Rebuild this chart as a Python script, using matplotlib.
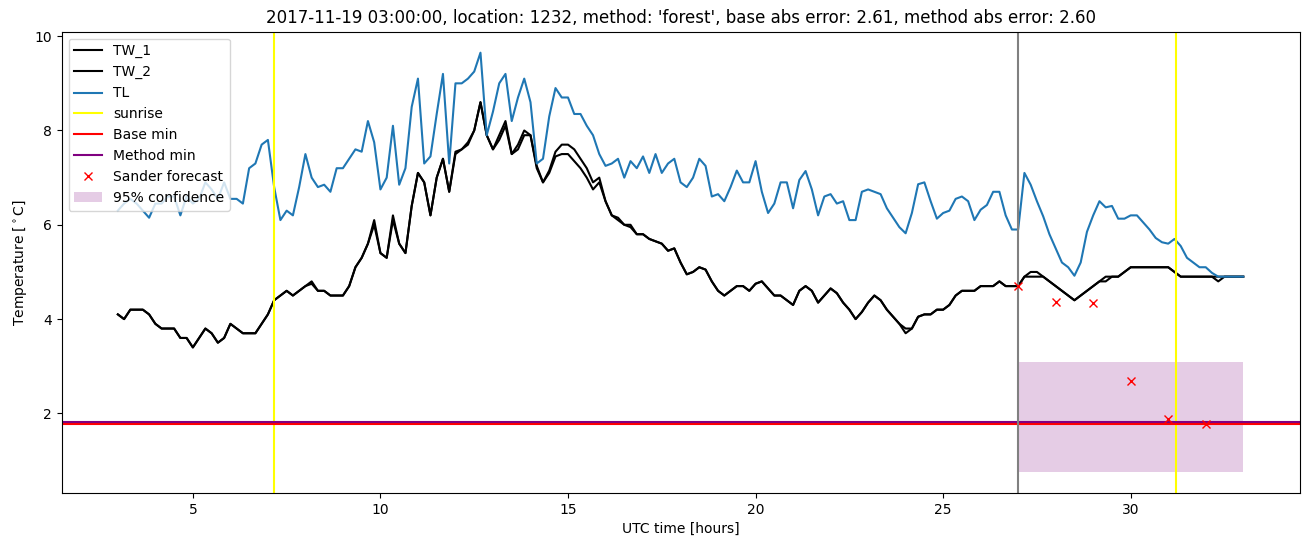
import numpy as np
import matplotlib
matplotlib.use("Agg")
import matplotlib.pyplot as plt

# 10-minute samples from 03:00 to 33:00 (hours since midnight UTC)
tw_1 = [4.1, 4.0, 4.2, 4.2, 4.2, 4.1,
        3.9, 3.8, 3.8, 3.8, 3.6, 3.6,
        3.4, 3.6, 3.8, 3.7, 3.5, 3.6,
        3.9, 3.8, 3.7, 3.7, 3.7, 3.9,
        4.1, 4.4, 4.5, 4.6, 4.5, 4.6,
        4.7, 4.8, 4.6, 4.6, 4.5, 4.5,
        4.5, 4.7, 5.1, 5.3, 5.6, 6.1,
        5.4, 5.3, 6.2, 5.6, 5.4, 6.4,
        7.1, 6.9, 6.2, 7.0, 7.4, 6.7,
        7.55, 7.6, 7.75, 8.0, 8.6, 7.9,
        7.6, 7.9, 8.2, 7.5, 7.7, 8.0,
        7.9, 7.25, 6.9, 7.15, 7.55, 7.7,
        7.7, 7.6, 7.4, 7.2, 6.9, 7.0,
        6.5, 6.2, 6.15, 6.0, 6.0, 5.8,
        5.8, 5.7, 5.65, 5.6, 5.45, 5.5,
        5.2, 4.95, 5.0, 5.1, 5.05, 4.8,
        4.6, 4.5, 4.6, 4.7, 4.7, 4.6,
        4.75, 4.8, 4.65, 4.5, 4.5, 4.4,
        4.3, 4.6, 4.7, 4.6, 4.35, 4.5,
        4.65, 4.55, 4.35, 4.2, 4.0, 4.15,
        4.35, 4.5, 4.4, 4.2, 4.05, 3.9,
        3.8, 3.8, 4.05, 4.1, 4.1, 4.2,
        4.2, 4.3, 4.5, 4.6, 4.6, 4.6,
        4.7, 4.7, 4.7, 4.8, 4.7, 4.7,
        4.7, 4.9, 5.0, 5.0, 4.9, 4.8,
        4.7, 4.6, 4.5, 4.4, 4.5, 4.6,
        4.7, 4.8, 4.9, 4.9, 4.9, 5.0,
        5.1, 5.1, 5.1, 5.1, 5.1, 5.1,
        5.1, 5.0, 4.9, 4.9, 4.9, 4.9,
        4.9, 4.9, 4.8, 4.9, 4.9, 4.9,
        4.9]

tw_2 = [4.1, 4.0, 4.2, 4.2, 4.2, 4.1,
        3.9, 3.8, 3.8, 3.8, 3.6, 3.6,
        3.4, 3.6, 3.8, 3.7, 3.5, 3.6,
        3.9, 3.8, 3.7, 3.7, 3.7, 3.9,
        4.1, 4.4, 4.5, 4.6, 4.5, 4.6,
        4.7, 4.75, 4.6, 4.6, 4.5, 4.5,
        4.5, 4.7, 5.1, 5.3, 5.6, 6.0,
        5.4, 5.3, 6.1, 5.6, 5.4, 6.4,
        7.1, 6.9, 6.2, 7.0, 7.4, 6.7,
        7.5, 7.6, 7.7, 8.0, 8.6, 7.9,
        7.6, 7.8, 8.1, 7.5, 7.6, 7.9,
        7.9, 7.2, 6.9, 7.1, 7.45, 7.5,
        7.5, 7.35, 7.2, 7.0, 6.75, 6.9,
        6.5, 6.2, 6.1, 6.0, 5.95, 5.8,
        5.8, 5.7, 5.65, 5.6, 5.45, 5.5,
        5.2, 4.95, 5.0, 5.1, 5.05, 4.8,
        4.6, 4.5, 4.6, 4.7, 4.7, 4.6,
        4.75, 4.8, 4.65, 4.5, 4.5, 4.4,
        4.3, 4.6, 4.7, 4.6, 4.35, 4.5,
        4.65, 4.55, 4.35, 4.2, 4.0, 4.15,
        4.35, 4.5, 4.4, 4.2, 4.05, 3.9,
        3.7, 3.8, 4.05, 4.1, 4.1, 4.2,
        4.2, 4.3, 4.5, 4.6, 4.6, 4.6,
        4.7, 4.7, 4.7, 4.8, 4.7, 4.7,
        4.7, 4.9, 4.9, 4.9, 4.9, 4.8,
        4.7, 4.6, 4.5, 4.4, 4.5, 4.6,
        4.7, 4.8, 4.8, 4.9, 4.9, 5.0,
        5.1, 5.1, 5.1, 5.1, 5.1, 5.1,
        5.1, 5.0, 4.9, 4.9, 4.9, 4.9,
        4.9, 4.9, 4.9, 4.9, 4.9, 4.9,
        4.9]

tl = [6.3, 6.45, 6.55, 6.45, 6.3, 6.15,
      6.45, 6.45, 6.6, 6.6, 6.2, 6.6,
      6.45, 6.55, 6.9, 6.75, 6.55, 6.9,
      6.55, 6.55, 6.45, 7.2, 7.3, 7.7,
      7.8, 6.8, 6.1, 6.3, 6.2, 6.8,
      7.5, 7.0, 6.8, 6.85, 6.7, 7.2,
      7.2, 7.4, 7.6, 7.55, 8.2, 7.75,
      6.75, 7.0, 8.1, 6.85, 7.2, 8.5,
      9.1, 7.3, 7.45, 8.35, 9.2, 7.3,
      9.0, 9.0, 9.1, 9.25, 9.65, 7.9,
      8.4, 9.0, 9.2, 8.2, 8.7, 9.1,
      8.6, 7.3, 7.4, 8.3, 8.9, 8.7,
      8.7, 8.35, 8.35, 8.1, 7.9, 7.5,
      7.25, 7.3, 7.4, 7.0, 7.35, 7.2,
      7.45, 7.1, 7.5, 7.1, 7.3, 7.4,
      6.9, 6.8, 7.0, 7.4, 7.25, 6.6,
      6.65, 6.5, 6.8, 7.15, 6.9, 6.9,
      7.35, 6.7, 6.25, 6.45, 6.9, 6.9,
      6.35, 6.95, 7.14, 6.75, 6.2, 6.6,
      6.65, 6.45, 6.5, 6.1, 6.1, 6.7,
      6.75, 6.7, 6.65, 6.35, 6.15, 5.95,
      5.82, 6.25, 6.86, 6.9, 6.5, 6.13,
      6.25, 6.3, 6.55, 6.6, 6.5, 6.1,
      6.32, 6.42, 6.7, 6.7, 6.2, 5.9,
      5.9, 7.1, 6.85, 6.5, 6.18, 5.8,
      5.5, 5.2, 5.1, 4.92, 5.2, 5.85,
      6.2, 6.5, 6.37, 6.4, 6.13, 6.13,
      6.2, 6.2, 6.05, 5.9, 5.72, 5.63,
      5.6, 5.7, 5.55, 5.3, 5.2, 5.1,
      5.1, 4.98, 4.9, 4.9, 4.9, 4.9,
      4.9]

sunrise = [7.15, 31.2]
forecast_start = 27
base_min = 1.785
method_min = 1.81

sander_hours = [27, 28, 29, 30, 31, 32]
sander_temp = [4.7, 4.37, 4.35, 2.68, 1.88, 1.78]

conf_hours = [27, 33]
conf_low = [0.76, 0.76]
conf_high = [3.1, 3.1]

hours = 3 + np.arange(len(tl)) / 6.0

fig = plt.figure(figsize=(13.1, 5.47), dpi=100)
ax = fig.add_axes([0.047, 0.099, 0.945, 0.843])

ax.plot(hours, tw_1, color="black", label="TW_1")
ax.plot(hours, tw_2, color="black", label="TW_2")
ax.plot(hours, tl, color="tab:blue", label="TL")
ax.axvline(sunrise[0], color="yellow", label="sunrise")
ax.axvline(sunrise[1], color="yellow")
ax.axhline(base_min, color="red", label="Base min")
ax.axhline(method_min, color="purple", label="Method min")
ax.axvline(forecast_start, color="gray")
ax.plot(sander_hours, sander_temp, "x", color="red", label="Sander forecast")
ax.fill_between(conf_hours, conf_low, conf_high, color="purple", alpha=0.2,
                linewidth=0, label="95% confidence")

ax.set_xlabel("UTC time [hours]")
ax.set_ylabel(r"Temperature [$^\circ$C]")
ax.set_title("2017-11-19 03:00:00, location: 1232, method: 'forest', "
             "base abs error: 2.61, method abs error: 2.60")
ax.legend(loc="upper left")

fig.savefig("out.png", dpi=100)
